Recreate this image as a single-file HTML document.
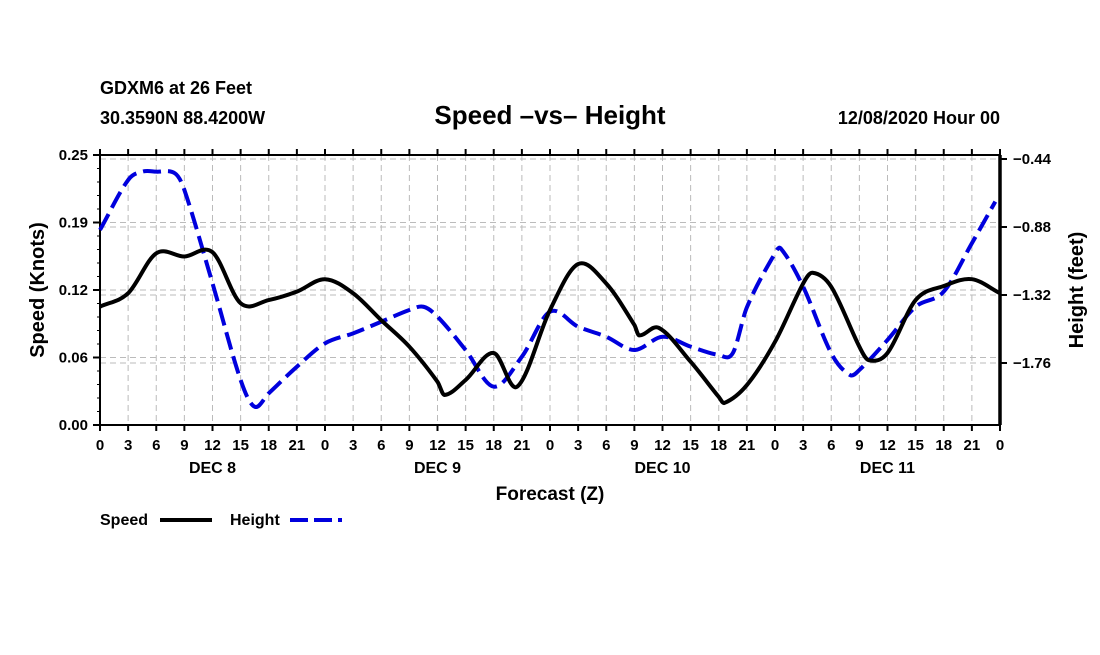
<!DOCTYPE html>
<html><head><meta charset="utf-8"><style>
body{margin:0;background:#fff;}
svg text{font-family:"Liberation Sans",Arial,sans-serif;font-weight:bold;fill:#000;}
</style></head><body>
<svg id="chart" width="1100" height="650" viewBox="0 0 1100 650" xmlns="http://www.w3.org/2000/svg">
<rect width="1100" height="650" fill="#fff"/>
<text x="100" y="94" font-size="18">GDXM6 at 26 Feet</text>
<text x="100" y="124" font-size="18">30.3590N 88.4200W</text>
<text x="550" y="124" font-size="26" text-anchor="middle">Speed –vs– Height</text>
<text x="1000" y="124" font-size="18" text-anchor="end">12/08/2020 Hour 00</text>
<g id="grid"></g>
<g id="axes"></g>
<g id="series"></g>
<text transform="translate(44,290) rotate(-90)" font-size="20" text-anchor="middle">Speed (Knots)</text>
<text transform="translate(1083,290) rotate(-90)" font-size="20" text-anchor="middle">Height (feet)</text>
<text x="550" y="500" font-size="19" text-anchor="middle">Forecast (Z)</text>
<g>
<text x="100" y="525" font-size="16">Speed</text>
<line x1="160" y1="520" x2="212" y2="520" stroke="#000" stroke-width="4"/>
<text x="230" y="525" font-size="16">Height</text>
<line x1="290" y1="520" x2="342" y2="520" stroke="#0000dd" stroke-width="4" stroke-dasharray="18,6"/>
</g>
</svg>
<script>
const speedHours=[0,3,6,9,12,15,18,21,24,27,30,33,36,36.75,39,42,44.5,48,51,54,57,57.5,59.6,63,66,66.6,69,72,75,76,78,81,82,84,87,90,93,96];
const speedValues=[0.1096,0.122,0.159,0.156,0.160,0.1127,0.1157,0.1235,0.135,0.122,0.097,0.0725,0.040,0.0278,0.0417,0.0667,0.0355,0.1065,0.149,0.131,0.0926,0.083,0.090,0.0586,0.026,0.0204,0.037,0.077,0.131,0.141,0.128,0.0725,0.060,0.0667,0.1157,0.1287,0.135,0.122];
const heightHours=[0,3,4.5,6,8,9,12,15,16.5,18,21,24,27,30,33,34.5,36,39,42,45,48,51,54,57,60,63,66,67.5,69,72,72.6,75,78,80,81,84,87,90,93,95.5];
const heightValues=[-0.899,-0.576,-0.522,-0.522,-0.533,-0.64,-1.244,-1.87,-2.043,-1.956,-1.784,-1.633,-1.568,-1.493,-1.417,-1.396,-1.46,-1.676,-1.913,-1.719,-1.428,-1.525,-1.59,-1.676,-1.59,-1.654,-1.708,-1.696,-1.40,-1.05,-1.018,-1.266,-1.697,-1.838,-1.805,-1.611,-1.396,-1.298,-0.985,-0.716];
const leftTicks=[0,0.0625,0.125,0.1875,0.25];
const leftTickLabels=["0.00","0.06","0.12","0.19","0.25"];
const rightTicks=[-0.44,-0.88,-1.32,-1.76];
const rightTickLabels=["-0.44","-0.88","-1.32","-1.76"];
const hourTickLabels=["0","3","6","9","12","15","18","21"];
const dayLabels=["DEC 8","DEC 9","DEC 10","DEC 11"];

const X0=100,X1=1000,Y0=155,Y1=425;
const xs=h=>X0+h*(X1-X0)/96;
const yL=v=>Y1-v*(Y1-Y0)/0.25;
const yR=v=>159+(-0.44-v)*68/0.44;
const NS="http://www.w3.org/2000/svg";
function mk(parent,tag,attrs){const e=document.createElementNS(NS,tag);for(const k in attrs)e.setAttribute(k,attrs[k]);parent.appendChild(e);return e;}
const grid=document.getElementById('grid'),axes=document.getElementById('axes'),ser=document.getElementById('series');
const gs={stroke:"#bbb","stroke-width":1,"stroke-dasharray":"6,4"};
for(let h=3;h<96;h+=3){const l=mk(grid,'line',Object.assign({x1:xs(h),x2:xs(h),y1:Y0,y2:Y1},gs));

}
leftTicks.forEach((v,i)=>{const y=yL(v);
if(i>0&&i<4){const l=mk(grid,'line',Object.assign({x1:X0,x2:X1,y1:y,y2:y},gs));

}
const t=mk(axes,'line',{x1:X0-7,x2:X0,y1:y,y2:y,stroke:"#000","stroke-width":2});


const tx=mk(axes,'text',{x:X0-12,y:y+5,"font-size":15,"text-anchor":"end"});tx.textContent=leftTickLabels[i];

});
for(let v=0;v<=0.25;v+=0.0125){const t=mk(axes,'line',{x1:X0-3,x2:X0,y1:yL(v),y2:yL(v),stroke:"#000","stroke-width":1});

}
rightTicks.forEach((v,i)=>{const y=yR(v);
const l=mk(grid,'line',Object.assign({x1:X0,x2:X1,y1:y,y2:y},gs));


const t=mk(axes,'line',{x1:X1,x2:X1+7,y1:y,y2:y,stroke:"#000","stroke-width":2});


const tx=mk(axes,'text',{x:X1+13,y:y+5,"font-size":15});tx.textContent=rightTickLabels[i].replace('-','\u2212');

});
for(let h=0;h<=96;h+=3){const x=xs(h);
const t=mk(axes,'line',{x1:x,x2:x,y1:Y1,y2:Y1+6,stroke:"#000","stroke-width":2});


const t2=mk(axes,'line',{x1:x,x2:x,y1:Y0-6,y2:Y0,stroke:"#000","stroke-width":2});


const tx=mk(axes,'text',{x:x,y:450,"font-size":15,"text-anchor":"middle"});tx.textContent=hourTickLabels[(h/3)%8];

}
dayLabels.forEach((d,i)=>{const tx=mk(axes,'text',{x:xs(12+24*i),y:473,"font-size":16,"text-anchor":"middle"});tx.textContent=d;

});
const frame=mk(axes,'rect',{x:X0,y:Y0,width:X1-X0,height:Y1-Y0,fill:"none",stroke:"#000","stroke-width":2});


const rax=mk(axes,'line',{x1:X1,x2:X1,y1:Y0,y2:Y1,stroke:"#000","stroke-width":3.5});


function smooth(pts){const n=pts.length,m=[];
for(let i=0;i<n;i++){const a=pts[Math.max(0,i-1)],b=pts[Math.min(n-1,i+1)];m.push((b[1]-a[1])/(b[0]-a[0]));}
let d=`M${pts[0][0]},${pts[0][1]}`;
for(let i=0;i<n-1;i++){const p=pts[i],q=pts[i+1],dx=(q[0]-p[0])/3;
d+=` C${p[0]+dx},${p[1]+m[i]*dx} ${q[0]-dx},${q[1]-m[i+1]*dx} ${q[0]},${q[1]}`;}return d;}
const hp=mk(ser,'path',{d:smooth(heightHours.map((h,i)=>[xs(h),yR(heightValues[i])])),fill:"none",stroke:"#0000dd","stroke-width":4,"stroke-dasharray":"18,7"});


const sp=mk(ser,'path',{d:smooth(speedHours.map((h,i)=>[xs(h),yL(speedValues[i])])),fill:"none",stroke:"#000","stroke-width":4});


</script>
</body></html>
